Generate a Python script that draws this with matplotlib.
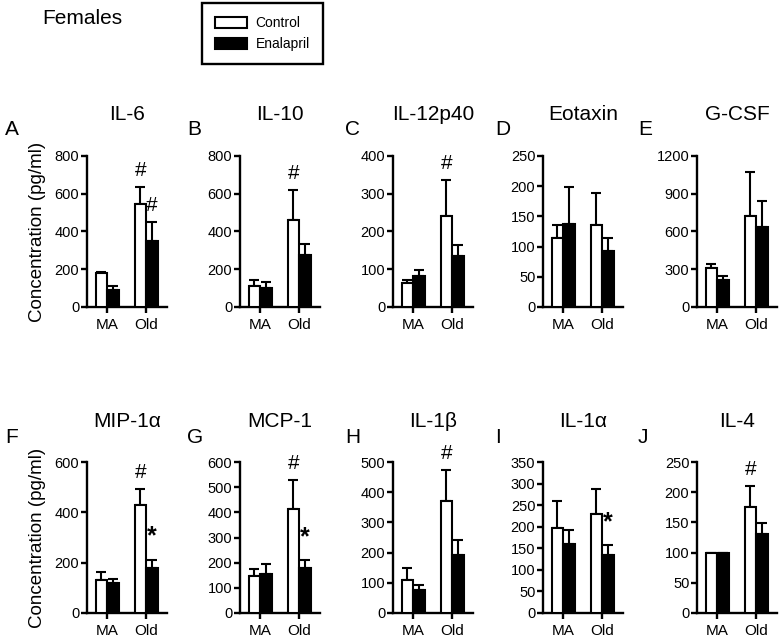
import matplotlib
matplotlib.use('Agg')
import matplotlib.pyplot as plt
from matplotlib.patches import Patch
import numpy as np

plt.rcParams['font.family'] = ['Liberation Sans', 'DejaVu Sans']

# ---------------- data ----------------
titles = ["IL-6", "IL-10", "IL-12p40", "Eotaxin", "G-CSF",
          "MIP-1\u03b1", "MCP-1", "IL-1\u03b2", "IL-1\u03b1", "IL-4"]
letters = ["A", "B", "C", "D", "E", "F", "G", "H", "I", "J"]
groups = ["MA", "Old"]
ymax = [800, 800, 400, 250, 1200, 600, 600, 500, 350, 250]
ystep = [200, 200, 100, 50, 300, 200, 100, 100, 50, 50]

ctrl_mean = [[180, 548], [110, 460], [64, 240], [114, 136], [310, 726],
             [132, 428], [147, 413], [110, 371], [198, 230], [100, 176]]
ctrl_sem = [[6, 90], [35, 162], [8, 97], [21, 52], [34, 343],
            [31, 65], [29, 117], [38, 104], [61, 58], [0, 35]]
enal_mean = [[90, 350], [101, 278], [82, 134], [138, 92], [212, 633],
             [119, 180], [155, 179], [77, 191], [159, 135], [100, 130]]
enal_sem = [[20, 100], [30, 58], [16, 30], [61, 22], [32, 209],
            [17, 32], [41, 30], [17, 50], [33, 22], [0, 19]]

sig_ctrl_old = ["#", "#", "#", "", "", "#", "#", "#", "", "#"]
sig_enal_old = ["#", "", "", "", "", "*", "*", "", "*", ""]

# ---------------- layout (pixels) ----------------
W, H = 780, 644
fig = plt.figure(figsize=(W / 100, H / 100), dpi=100)

col_left = [87, 240, 393, 543, 697]
row_top = [156, 462]
ax_w, ax_h = 80, 151
title_base = [120, 427]
letter_base = [135, 443]
letter_x = [5, 187, 345, 495, 638]


def px_axes(left, top, width, height):
    return fig.add_axes([left / W, 1 - (top + height) / H, width / W, height / H])


bw = 0.295
lw = 1.5


def mark(ax, sym, x, y):
    if sym == "#":
        ax.annotate(sym, xy=(x, y), xytext=(0, 5), textcoords='offset points',
                    ha='center', va='bottom', fontsize=15, annotation_clip=False)
    else:
        ax.annotate(sym, xy=(x, y), xytext=(0, 8), textcoords='offset points',
                    ha='center', va='bottom', fontsize=18, fontweight='bold',
                    annotation_clip=False)


for i in range(10):
    r, c = divmod(i, 5)
    ax = px_axes(col_left[c], row_top[r], ax_w, ax_h)
    ax.patch.set_visible(False)
    x = np.arange(len(groups))
    cm, cs = np.array(ctrl_mean[i]), np.array(ctrl_sem[i])
    em, es = np.array(enal_mean[i]), np.array(enal_sem[i])
    ax.errorbar(x - bw / 2, cm, yerr=[np.zeros(2), cs], fmt='none', ecolor='black',
                elinewidth=lw, capsize=3.8, capthick=lw, zorder=2)
    ax.errorbar(x + bw / 2, em, yerr=[np.zeros(2), es], fmt='none', ecolor='black',
                elinewidth=lw, capsize=3.8, capthick=lw, zorder=2)
    ax.bar(x - bw / 2, cm, bw, color='white', edgecolor='black', linewidth=lw, zorder=3)
    ax.bar(x + bw / 2, em, bw, color='black', edgecolor='black', linewidth=lw, zorder=3)

    ax.set_xlim(-0.513, 1.538)
    ax.set_ylim(0, ymax[i])
    ax.set_yticks(np.arange(0, ymax[i] + 1, ystep[i]))
    ax.set_xticks(x)
    ax.set_xticklabels(groups)
    for s in ["top", "right"]:
        ax.spines[s].set_visible(False)
    for s in ["left", "bottom"]:
        ax.spines[s].set_linewidth(1.7)
    ax.tick_params(axis='y', direction='out', length=4, width=1.7, labelsize=10.5, pad=1.5)
    ax.tick_params(axis='x', direction='out', length=4, width=1.7, labelsize=11, pad=4)

    if sig_ctrl_old[i]:
        mark(ax, sig_ctrl_old[i], x[1] - bw / 2, cm[1] + cs[1])
    if sig_enal_old[i]:
        mark(ax, sig_enal_old[i], x[1] + bw / 2, em[1] + es[1])

    fig.text((col_left[c] + ax_w / 2) / W, 1 - title_base[r] / H, titles[i],
             ha='center', va='baseline', fontsize=15)
    fig.text(letter_x[c] / W, 1 - letter_base[r] / H, letters[i],
             ha='left', va='baseline', fontsize=15)

for r in range(2):
    fig.text(38 / W, 1 - (row_top[r] + ax_h / 2) / H, "Concentration (pg/ml)",
             rotation=90, ha='center', va='center', fontsize=13.5)

fig.text(42 / W, 1 - 24 / H, "Females", ha='left', va='baseline', fontsize=15)

handles = [Patch(facecolor='white', edgecolor='black', linewidth=1.5, label='Control'),
           Patch(facecolor='black', edgecolor='black', linewidth=1.5, label='Enalapril')]
leg = fig.legend(handles=handles, loc='upper left', bbox_to_anchor=(202 / W, 1 - 3 / H),
                 frameon=True, fancybox=False, edgecolor='black', framealpha=1,
                 fontsize=10, handlelength=2.3, handleheight=0.85, handletextpad=0.6,
                 borderpad=0.95, labelspacing=0.5, borderaxespad=0)
leg.get_frame().set_linewidth(1.7)

fig.savefig("out.png", dpi=100)
